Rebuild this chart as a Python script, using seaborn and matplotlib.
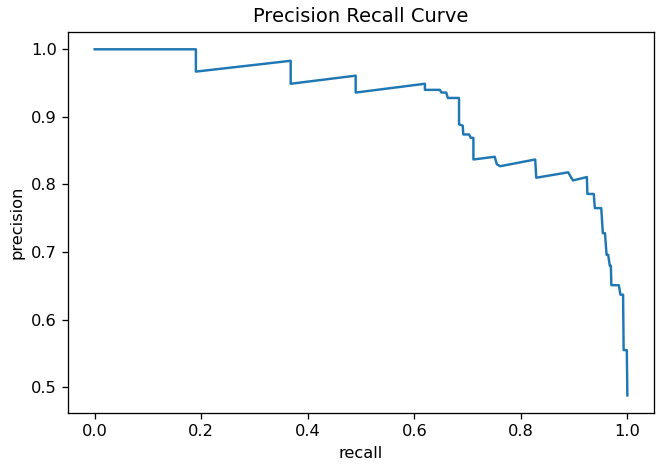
import numpy as np
import pandas as pd
import seaborn as sns
import matplotlib
matplotlib.use("Agg")
import matplotlib.pyplot as plt

# points of the precision / recall curve
recall = [0.0, 0.190, 0.190, 0.368, 0.368, 0.490, 0.490, 0.620, 0.620, 0.648,
          0.651, 0.660, 0.663, 0.684, 0.684, 0.691, 0.692, 0.703, 0.706, 0.711,
          0.711, 0.751, 0.755, 0.761, 0.827, 0.829, 0.889, 0.894, 0.898, 0.924,
          0.925, 0.937, 0.939, 0.951, 0.954, 0.958, 0.961, 0.964, 0.967, 0.969,
          0.970, 0.984, 0.987, 0.992, 0.993, 0.999, 1.0]
precision = [1.0, 1.0, 0.967, 0.983, 0.949, 0.961, 0.936, 0.949, 0.940, 0.940,
             0.936, 0.936, 0.928, 0.928, 0.889, 0.887, 0.874, 0.874, 0.869, 0.869,
             0.837, 0.841, 0.830, 0.827, 0.837, 0.810, 0.818, 0.811, 0.806, 0.811,
             0.786, 0.786, 0.765, 0.765, 0.728, 0.728, 0.696, 0.696, 0.680, 0.680,
             0.651, 0.651, 0.637, 0.637, 0.555, 0.555, 0.488]

df = pd.DataFrame({"recall": recall, "precision": precision})

fig = plt.figure(figsize=(663 / 117, 467 / 117), dpi=117)
ax = fig.add_axes([0.1026, 0.1163, 0.8838, 0.8152])

sns.lineplot(data=df, x="recall", y="precision", sort=False, estimator=None,
             color="#1f77b4", linewidth=1.5, ax=ax)
ax.set_title("Precision Recall Curve")
ax.set_xlabel("recall")
ax.set_ylabel("precision")
ax.set_xticks([0.0, 0.2, 0.4, 0.6, 0.8, 1.0])
ax.set_yticks([0.5, 0.6, 0.7, 0.8, 0.9, 1.0])

fig.savefig("out.png", dpi=117)
